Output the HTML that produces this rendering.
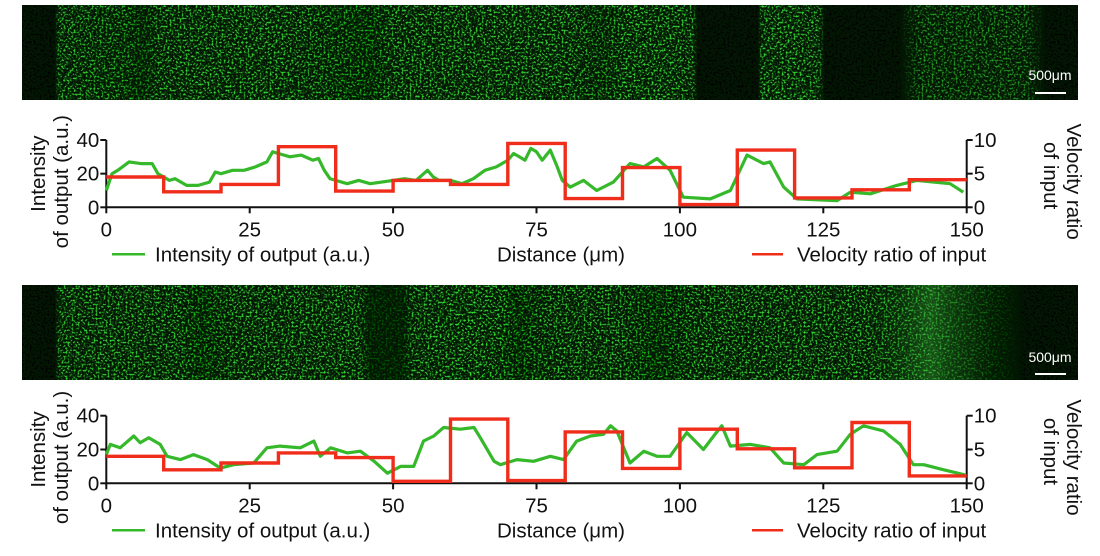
<!DOCTYPE html>
<html><head><meta charset="utf-8"><style>
body{margin:0;background:#fff;width:1100px;height:556px;overflow:hidden;font-family:"Liberation Sans",Arial,sans-serif}
svg{position:absolute;left:0;top:0}
</style></head><body>
<svg id="s" width="1100" height="556">
<defs>
<filter id="speck" x="0" y="0" width="100%" height="100%">
<feTurbulence type="fractalNoise" baseFrequency="0.5" numOctaves="2" seed="3" result="n"/>
<feColorMatrix in="n" type="matrix" values="0 0 0 0 0  0 0 0 0 0  0 0 0 0 0  0 5 0 0 -2.5" result="a"/>
<feComposite in="SourceGraphic" in2="a" operator="in"/>
</filter>
<linearGradient id="g1" x1="0" x2="1">
<stop offset="0" stop-color="#000"/><stop offset="0.031" stop-color="#000"/><stop offset="0.035" stop-color="#3c3"/>
<stop offset="0.1" stop-color="#2b2"/><stop offset="0.115" stop-color="#181"/><stop offset="0.13" stop-color="#3c3"/>
<stop offset="0.26" stop-color="#3c3"/><stop offset="0.33" stop-color="#1a1"/><stop offset="0.35" stop-color="#3c3"/>
<stop offset="0.52" stop-color="#3c3"/><stop offset="0.55" stop-color="#2a2"/><stop offset="0.57" stop-color="#3d3"/>
<stop offset="0.635" stop-color="#3c3"/><stop offset="0.64" stop-color="#000"/><stop offset="0.697" stop-color="#000"/>
<stop offset="0.70" stop-color="#3c3"/><stop offset="0.755" stop-color="#3c3"/><stop offset="0.76" stop-color="#000"/>
<stop offset="0.83" stop-color="#000"/><stop offset="0.85" stop-color="#292"/><stop offset="0.95" stop-color="#292"/>
<stop offset="0.97" stop-color="#000"/><stop offset="1" stop-color="#000"/>
</linearGradient>
<linearGradient id="g2" x1="0" x2="1">
<stop offset="0" stop-color="#000"/><stop offset="0.031" stop-color="#000"/><stop offset="0.035" stop-color="#3c3"/>
<stop offset="0.15" stop-color="#3c3"/><stop offset="0.17" stop-color="#1a1"/><stop offset="0.2" stop-color="#3c3"/>
<stop offset="0.32" stop-color="#3c3"/><stop offset="0.33" stop-color="#050"/><stop offset="0.36" stop-color="#050"/>
<stop offset="0.37" stop-color="#3c3"/><stop offset="0.45" stop-color="#3d3"/><stop offset="0.47" stop-color="#1a1"/>
<stop offset="0.5" stop-color="#3c3"/><stop offset="0.57" stop-color="#3c3"/><stop offset="0.6" stop-color="#1a1"/>
<stop offset="0.64" stop-color="#3c3"/><stop offset="0.83" stop-color="#3c3"/><stop offset="0.86" stop-color="#4d4"/>
<stop offset="0.88" stop-color="#292"/><stop offset="0.93" stop-color="#040"/><stop offset="0.95" stop-color="#000"/><stop offset="1" stop-color="#000"/>
</linearGradient>
<linearGradient id="h2" x1="0" x2="1">
<stop offset="0" stop-color="#0a300a" stop-opacity="0"/><stop offset="0.8" stop-color="#0a300a" stop-opacity="0"/>
<stop offset="0.86" stop-color="#2a8a2a" stop-opacity="0.5"/><stop offset="0.9" stop-color="#1a5a1a" stop-opacity="0.25"/><stop offset="0.93" stop-color="#0a300a" stop-opacity="0"/>
</linearGradient>
</defs>
<g>
<rect x="22" y="5" width="1056" height="95" fill="#031603"/>
<rect x="22" y="5" width="1056" height="95" fill="url(#g1)" filter="url(#speck)"/>
<text x="1050" y="80" fill="#fff" font-size="14" text-anchor="middle">500μm</text>
<line x1="1035" y1="93" x2="1066" y2="93" stroke="#fff" stroke-width="2"/>
</g>
<g>
<rect x="22" y="285" width="1056" height="95" fill="#031603"/>
<rect x="22" y="285" width="1056" height="95" fill="url(#g2)" filter="url(#speck)"/>
<rect x="22" y="285" width="1056" height="95" fill="url(#h2)"/>
<text x="1050" y="362" fill="#fff" font-size="14" text-anchor="middle">500μm</text>
<line x1="1035" y1="374" x2="1066" y2="374" stroke="#fff" stroke-width="2"/>
</g>
</svg>
<script>
const xTicks=[0,25,50,75,100,125,150];
const yLeftTicks=[0,20,40];
const yRightTicks=[0,5,10];
const vel1=[4.5,2.3,3.4,9.0,2.4,4.0,3.4,9.5,1.3,5.9,0.4,8.5,1.4,2.6,4.1];
const vel2=[4.0,2.0,3.0,4.5,3.8,0.3,9.5,0.4,7.6,2.2,8.0,5.1,2.3,9.0,1.1];
const dist1=[0,1,2,4,6,8,9,10,11,12,14,16,18,19,20,22,24,26,28,29,30,32,34,36,37,38,39,40,42,44,46,48,50,52,54,56,57,58,60,62,64,66,68,70,71,72,73,74,75,76,77.4,78.5,79.5,80.9,83.2,85.5,88.4,91.3,93.7,96,98.3,100.6,105.3,108.8,111.7,114.6,115.7,118.1,120.4,127.4,129.7,133.2,137.8,141.3,147.1,149.4];
const int1=[10,20,22,27,26,26,20,18,16,17,13,13,15,21,20,22,22,24,27,33,32,30,31,28,29,22,17,16,14,16,14,15,16,17,16,22,18,16,16,14,17,22,24,28,32,30,28,35,33,28,34,25,16,12,16,10,15,26,24,29,22,6,5,10,31,26,27,12,5,4,9,8,13,16,14,9];
const dist2=[0,0.7,2.4,4.8,5.9,7.4,9.4,10.6,12.9,15.2,17.6,19.9,22.2,25.7,28,30.3,33.8,36.2,37.3,39.1,42,44.3,46.7,49,51.3,53.6,55.3,57.1,58.8,61.7,64.1,65.2,67.6,68.7,71.6,74.5,77.4,79.7,82,84.4,86.7,87.9,89,91.3,93.7,96,98.3,101.2,104.1,105.9,107.3,108.8,112.3,115.7,118.1,121.6,123.9,127.4,129.7,132,135.5,138.4,140.7,142.5,146,149.7];
const int2=[17,23,21,28,24,27,23,16,14,17,14,9,11,12,21,22,21,25,16,21,18,19,13,6,10,10,25,28,33,32,33,27,13,11,14,13,16,14,25,28,29,34,31,12,19,16,16,30,20,28,34,22,23,21,12,11,17,19,29,34,31,23,11,11,8,5];
const NS='http://www.w3.org/2000/svg';
const svg=document.getElementById('s');
const FS=20.5;
function mk(t,a,p){const e=document.createElementNS(NS,t);for(const k in a)e.setAttribute(k,a[k]);(p||svg).appendChild(e);return e;}
function chart(top,bot,vel,dist,inten,idx){
  const X0=106.3,X1=966.7;
  const xs=v=>X0+(X1-X0)*v/150;
  const yl=v=>bot+(top-bot)*v/40;
  const yr=v=>bot+(top-bot)*v/10;
  const g=mk('g',{});
  
  
  const ax=mk('path',{d:`M${X0},${top} V${bot} H${X1} V${top}`,fill:'none',stroke:'#111','stroke-width':2},g);
  
  
  xTicks.forEach(t=>{
    mk('line',{x1:xs(t),x2:xs(t),y1:bot,y2:bot+6,stroke:'#111','stroke-width':2},g);
    const tx=mk('text',{x:xs(t),y:bot+29,'font-size':FS,'text-anchor':'middle',fill:'#111'},g);
    tx.textContent=t;
    
    
  });
  yLeftTicks.forEach(t=>{
    mk('line',{x1:X0-6,x2:X0,y1:yl(t),y2:yl(t),stroke:'#111','stroke-width':2},g);
    const tx=mk('text',{x:X0-7,y:yl(t)+7,'font-size':FS,'text-anchor':'end',fill:'#111'},g);
    tx.textContent=t;
    
    
  });
  yRightTicks.forEach(t=>{
    mk('line',{x1:X1,x2:X1+6,y1:yr(t),y2:yr(t),stroke:'#111','stroke-width':2},g);
    const tx=mk('text',{x:X1+7,y:yr(t)+7,'font-size':FS,'text-anchor':'start',fill:'#111'},g);
    tx.textContent=t;
    
    
  });
  let d='';dist.forEach((x,i)=>{d+=(i?'L':'M')+xs(x).toFixed(1)+','+yl(inten[i]).toFixed(1);});
  const gl=mk('path',{d:d,fill:'none',stroke:'#35b82a','stroke-width':3.2,'stroke-linejoin':'round'},g);
  
  
  let r='';vel.forEach((v,i)=>{r+=(i?'L':'M')+xs(i*10).toFixed(1)+','+yr(v).toFixed(1)+'L'+xs(i*10+10).toFixed(1)+','+yr(v).toFixed(1);});
  const rl=mk('path',{d:r,fill:'none',stroke:'#ef2d1a','stroke-width':3.4},g);
  
  
  const mid=(top+bot)/2;
  const t1=mk('text',{x:0,y:0,'font-size':FS,'text-anchor':'middle',fill:'#111',transform:`translate(45,${mid}) rotate(-90)`},g);
  t1.textContent='Intensity';
  
  
  const t2=mk('text',{x:0,y:0,'font-size':FS,'text-anchor':'middle',fill:'#111',transform:`translate(68,${mid+8}) rotate(-90)`},g);
  t2.textContent='of output (a.u.)';
  
  
  const t3=mk('text',{x:0,y:0,'font-size':FS,'text-anchor':'middle',fill:'#111',transform:`translate(1067,${mid+8}) rotate(90)`},g);
  t3.textContent='Velocity ratio';
  
  
  const t4=mk('text',{x:0,y:0,'font-size':FS,'text-anchor':'middle',fill:'#111',transform:`translate(1044,${mid+2}) rotate(90)`},g);
  t4.textContent='of input';
  
  
  const ly=bot+47;
  const xt=mk('text',{x:561,y:ly+7,'font-size':FS,'text-anchor':'middle',fill:'#111'},g);
  xt.textContent='Distance (μm)';
  
  
  const lg1=mk('line',{x1:112,x2:145,y1:ly,y2:ly,stroke:'#35b82a','stroke-width':2.5},g);
  
  
  const lt1=mk('text',{x:155,y:ly+7,'font-size':FS,fill:'#111'},g);
  lt1.textContent='Intensity of output (a.u.)';
  
  
  const lg2=mk('line',{x1:752,x2:783,y1:ly,y2:ly,stroke:'#ef2d1a','stroke-width':2.5},g);
  
  
  const lt2=mk('text',{x:797,y:ly+7,'font-size':FS,fill:'#111'},g);
  lt2.textContent='Velocity ratio of input';
  
  
}
chart(140,207.3,vel1,dist1,int1,'top');
chart(415.7,483.3,vel2,dist2,int2,'bottom');
</script>
</body></html>
